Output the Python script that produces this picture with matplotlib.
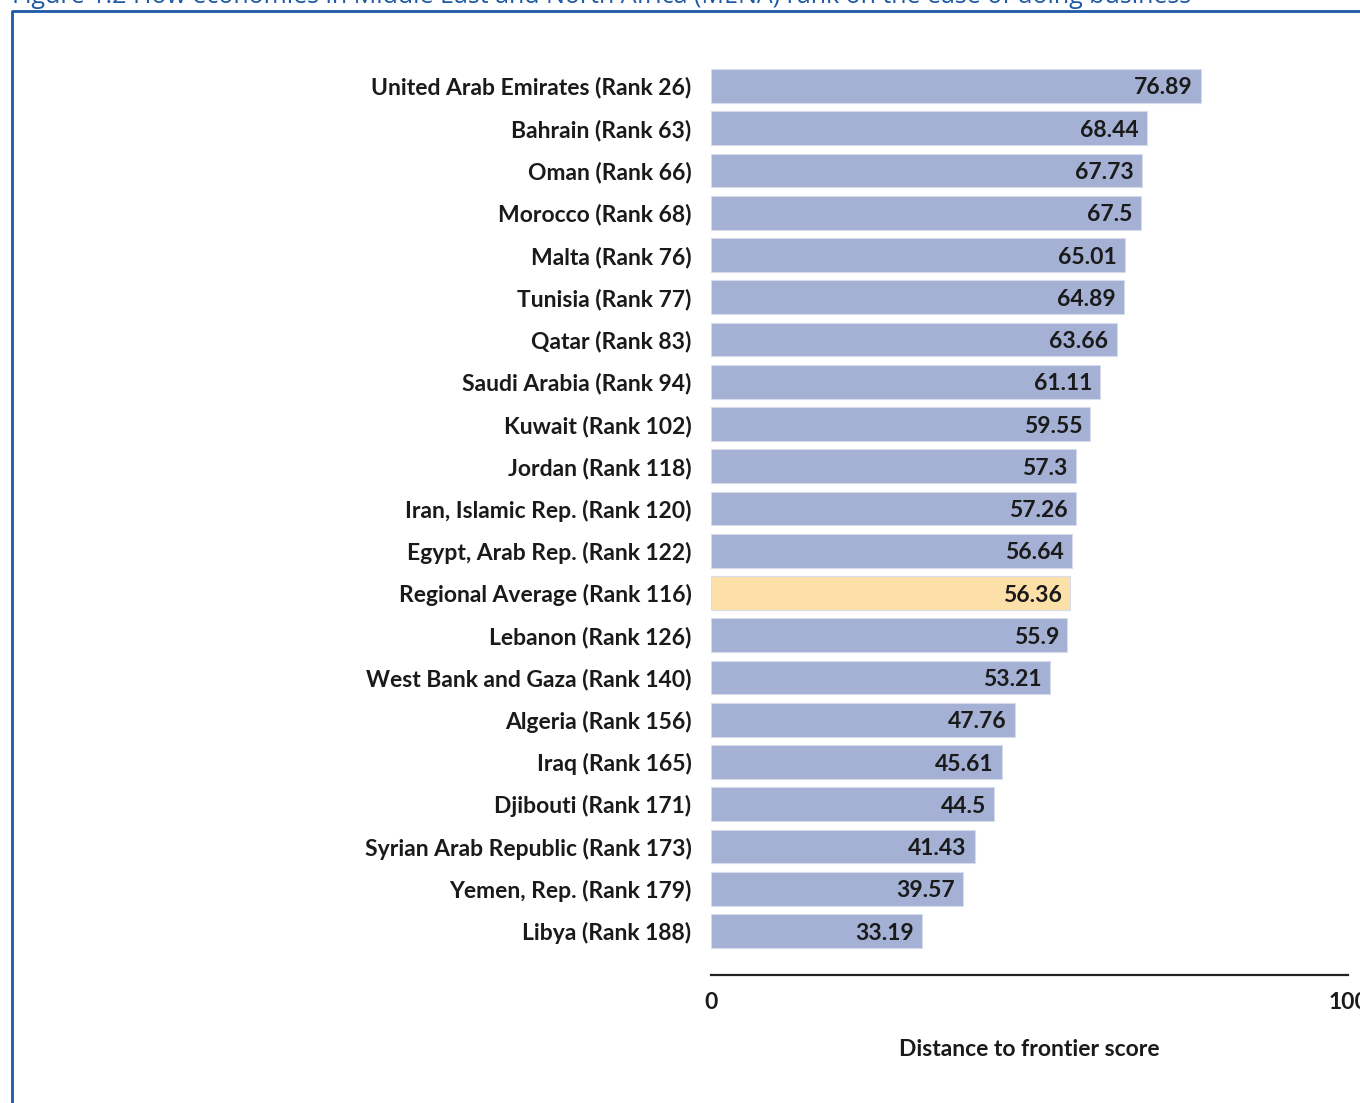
import matplotlib.pyplot as plt
from matplotlib.lines import Line2D

# Data
countries = [
    "United Arab Emirates (Rank 26)",
    "Bahrain (Rank 63)",
    "Oman (Rank 66)",
    "Morocco (Rank 68)",
    "Malta (Rank 76)",
    "Tunisia (Rank 77)",
    "Qatar (Rank 83)",
    "Saudi Arabia (Rank 94)",
    "Kuwait (Rank 102)",
    "Jordan (Rank 118)",
    "Iran, Islamic Rep. (Rank 120)",
    "Egypt, Arab Rep. (Rank 122)",
    "Regional Average (Rank 116)",
    "Lebanon (Rank 126)",
    "West Bank and Gaza (Rank 140)",
    "Algeria (Rank 156)",
    "Iraq (Rank 165)",
    "Djibouti (Rank 171)",
    "Syrian Arab Republic (Rank 173)",
    "Yemen, Rep. (Rank 179)",
    "Libya (Rank 188)",
]
scores = [76.89, 68.44, 67.73, 67.5, 65.01, 64.89, 63.66, 61.11, 59.55, 57.3,
          57.26, 56.64, 56.36, 55.9, 53.21, 47.76, 45.61, 44.5, 41.43, 39.57, 33.19]
score_labels = ["76.89", "68.44", "67.73", "67.5", "65.01", "64.89", "63.66",
                "61.11", "59.55", "57.3", "57.26", "56.64", "56.36", "55.9",
                "53.21", "47.76", "45.61", "44.5", "41.43", "39.57", "33.19"]
highlight = "Regional Average (Rank 116)"

title = ("Figure 1.2 How economies in Middle East and North Africa (MENA) "
         "rank on the ease of doing business")

plt.rcParams["font.family"] = ["Lato", "DejaVu Sans"]

fig = plt.figure(figsize=(13.6, 11.03), dpi=100)
ax = fig.add_axes([711 / 1360, 1 - 975 / 1103, 637 / 1360, 915 / 1103])

n = len(countries)
ypos = [n - 1 - i for i in range(n)]
colors = ["#fddfa8" if c == highlight else "#a4b0d4" for c in countries]
ax.barh(ypos, scores, height=0.8, color=colors, edgecolor="#d8dcea", linewidth=0.8)

for y, s, lab in zip(ypos, scores, score_labels):
    ax.text(s - 1.3, y, lab, ha="right", va="center_baseline", fontsize=16.5,
            fontweight="bold", color="#1a1a1a")

ax.set_xlim(0, 100)
ax.set_ylim(-1.04, n - 1 + 0.615)
ax.set_yticks(ypos)
ax.set_yticklabels(countries, fontsize=16.5, fontweight="bold", color="#1a1a1a",
                   va="center_baseline")
ax.tick_params(axis="y", length=0, pad=14)
ax.set_xticks([0, 100])
ax.set_xticklabels(["0", "100"], fontsize=16.5, fontweight="bold", color="#1a1a1a")
ax.tick_params(axis="x", length=0, pad=12)
ax.set_xlabel("Distance to frontier score", fontsize=16.5, fontweight="bold",
              color="#1a1a1a")
ax.xaxis.set_label_coords(0.5, -0.07)

for side in ["top", "right", "left"]:
    ax.spines[side].set_visible(False)
ax.spines["bottom"].set_color("#222222")
ax.spines["bottom"].set_linewidth(1.6)

# Title (clipped at the top edge like the source page)
fig.text(12 / 1360, 1 - 3 / 1103, title, ha="left", va="baseline",
         fontsize=18, color="#1f5aa6", family=["Open Sans", "DejaVu Sans"])

# Frame border
fig.add_artist(Line2D([12 / 1360, 12 / 1360, 1.0], [0.0, 1 - 11 / 1103, 1 - 11 / 1103],
                      transform=fig.transFigure, color="#1f5aa6", linewidth=2))

plt.savefig("out.png", dpi=100)
